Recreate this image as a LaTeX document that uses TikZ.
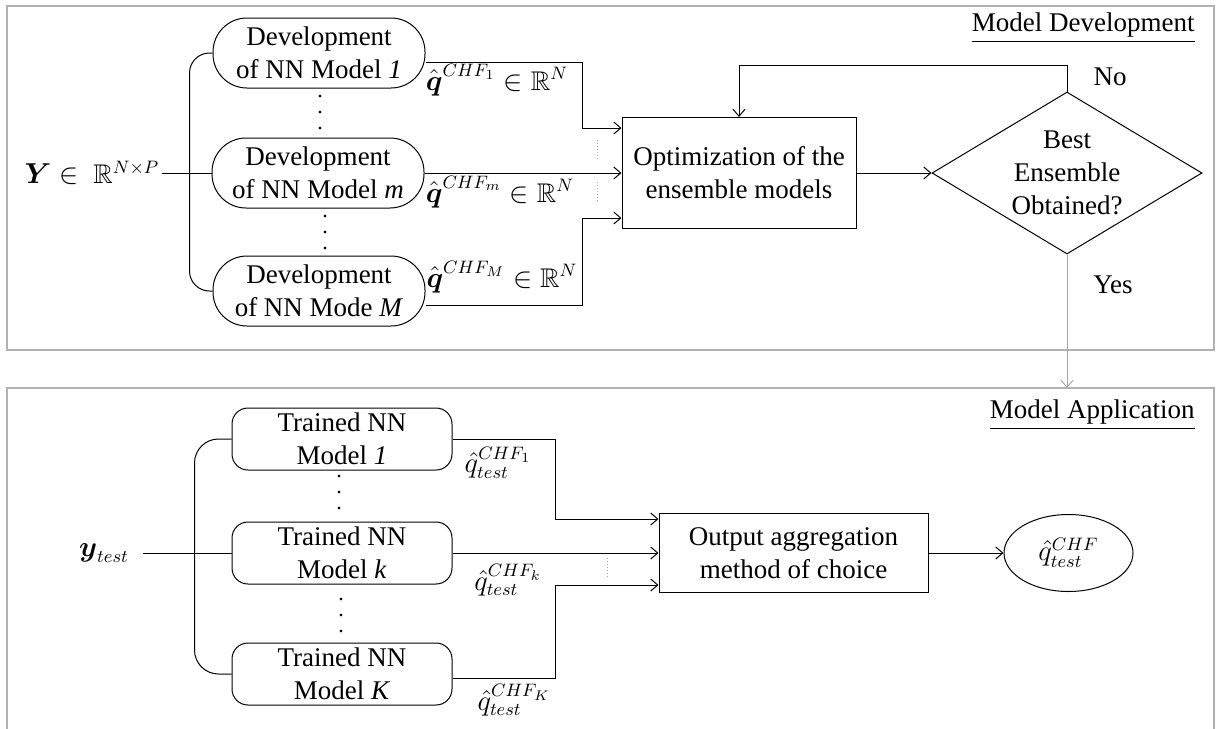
\documentclass[tikz,border=0pt]{standalone}
\usepackage{amsmath,amssymb}
\usepackage{fontspec}
\setmainfont{Liberation Serif}
\usetikzlibrary{arrows.meta,shapes.geometric,calc}

\begin{document}
\begin{tikzpicture}[x=0.5pt,y=-0.5pt,line width=0.5pt,
  font=\fontsize{13.5}{16.5}\selectfont,
  >={Straight Barb[length=3.5pt,width=6pt]},
  panel/.style={draw=gray!60,line width=1pt},
  devbox/.style={draw,rounded corners=17pt,align=center,minimum width=106pt,minimum height=35pt,inner sep=1pt},
  trainbox/.style={draw,rounded corners=8pt,align=center,minimum width=110pt,minimum height=31pt,inner sep=1pt},
  procbox/.style={draw,align=center,inner sep=1pt},
  lbl/.style={inner sep=1pt},
  dots/.style={align=center,inner sep=0pt,font=\fontsize{11}{8}\selectfont},
  vdots/.style={gray!70,densely dotted}]
  \useasboundingbox (0,0) rectangle (1217,729);
  \draw [panel] (7,6) rectangle (1214,350);
  \draw [panel] (7,760) -- (7,388) coordinate (MA) -- (1214,388) -- (1214,760);
  \node [anchor=east,inner sep=1pt] (MDt) at (1197,28) {\underline{Model Development}};
  \node [anchor=east,inner sep=1pt] (MAt) at (1197,415) {\underline{Model Application}};
  \node [lbl] (Y) at (92,173) {$\boldsymbol{Y}\in\ \mathbb{R}^{N\times P}$};
  \node [devbox] (D1) at (319,53) {Development\\of NN Model \textit{1}};
  \node [devbox] (Dm) at (318,173) {Development\\of NN Model \textit{m}};
  \node [devbox] (DM) at (319,291) {Development\\of NN Mode \textit{M}};
  \node [dots] (V1) at (320,113) {.\\.\\.};
  \node [dots] (V2) at (325,233) {.\\.\\.};
  \node [procbox,minimum width=117pt,minimum height=55.5pt] (OP) at (739,173) {Optimization of the\\ensemble models};
  \node [draw,diamond,aspect=1.67,inner sep=0pt,align=center,minimum width=135pt,minimum height=81pt] (BE) at (1067,173) {Best\\Ensemble\\Obtained?};
  \node [lbl] (L1) at (497,80) {$\hat{\boldsymbol{q}}^{CHF_1}\in\mathbb{R}^N$};
  \node [lbl] (Lm) at (500,192) {$\hat{\boldsymbol{q}}^{CHF_m}\in\mathbb{R}^N$};
  \node [lbl] (LM) at (502,277) {$\hat{\boldsymbol{q}}^{CHF_M}\in\mathbb{R}^N$};
  \node [lbl] (NO) at (1110,77) {No};
  \node [lbl] (YS) at (1113,285) {Yes};
  \coordinate (O1) at ($(OP.west)+(0,-45)$);
  \coordinate (O3) at ($(OP.west)+(0,45)$);
  \draw [rounded corners=10pt] (D1.west) -- ++(-23,0) |- (DM.west);
  \draw (Y.east) -- (Dm.west);
  \draw [->] ($(D1.east)+(0,9)$) -- ++(157,0) |- (O1);
  \draw [->] (Dm.east) -- (OP.west);
  \draw [->] ($(DM.east)+(0,14)$) -- ++(157,0) |- (O3);
  \draw [vdots] (597,140) -- (597,160);
  \draw [vdots] (597,182) -- (597,202);
  \draw [->] (OP.east) -- (BE.west);
  \draw [->] (BE.north) -- ++(0,-26) -| (OP.north);
  \draw [->,gray!70] (BE.south) -- (BE.south |- MA);
  \node [lbl] (yt) at (104,553) {$\boldsymbol{y}_{test}$};
  \node [trainbox] (T1) at (342,439) {Trained NN\\Model \textit{1}};
  \node [trainbox] (Tk) at (342,553) {Trained NN\\Model \textit{k}};
  \node [trainbox] (TK) at (342,674) {Trained NN\\Model \textit{K}};
  \node [dots] (V3) at (339,493) {.\\.\\.};
  \node [dots] (V4) at (341,616) {.\\.\\.};
  \node [procbox,minimum width=134.5pt,minimum height=39.5pt] (AG) at (793.5,553) {Output aggregation\\method of choice};
  \node [draw,ellipse,inner sep=0pt,minimum width=64.5pt,minimum height=38.5pt] (QO) at (1068.5,553) {$\hat{q}^{CHF}_{test}$};
  \node [lbl] (Q1) at (498,463) {$\hat{q}^{CHF_1}_{test}$};
  \node [lbl] (Qk) at (508,580) {$\hat{q}^{CHF_k}_{test}$};
  \node [lbl] (QK) at (514,700) {$\hat{q}^{CHF_K}_{test}$};
  \coordinate (A1) at ($(AG.west)+(0,-34)$);
  \coordinate (A3) at ($(AG.west)+(0,32)$);
  \draw [rounded corners=12pt] (T1.west) -- ++(-37,0) |- (TK.west);
  \draw (yt.east) ++(12,0) -- (Tk.west);
  \draw [->] (T1.east) -- ++(103,0) |- (A1);
  \draw [->] (Tk.east) -- (AG.west);
  \draw [->] ($(TK.east)+(0,4)$) -- ++(103,0) |- (A3);
  \draw [vdots] (607,558) -- (607,579);
  \draw [->] (AG.east) -- (QO.west);
\end{tikzpicture}
\end{document}
